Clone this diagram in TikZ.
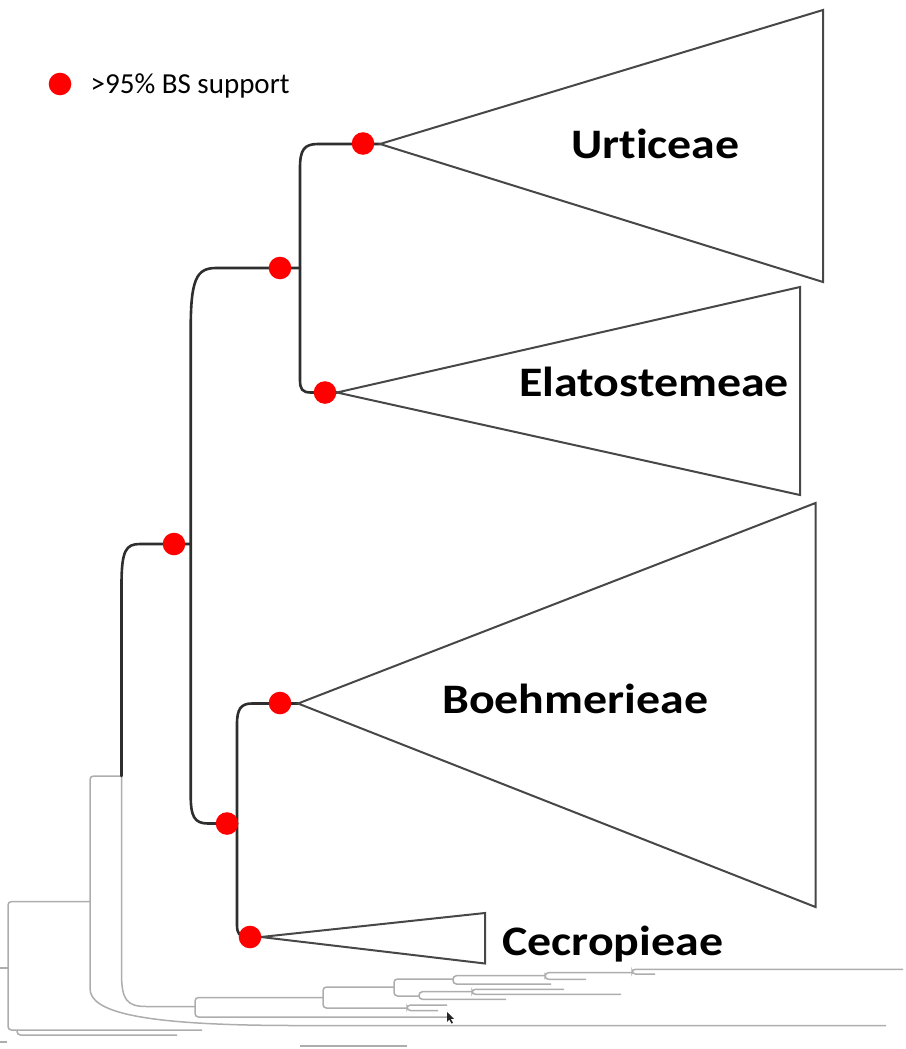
\documentclass[tikz,border=0pt]{standalone}
\usepackage{fontspec}
\setmainfont{Carlito}[Ligatures=NoCommon]
\newcommand{\wlab}[1]{\scalebox{1.14}[1]{#1}}
\begin{document}
\begin{tikzpicture}[x=1pt,y=-1pt,
  br/.style={draw=black!82, line width=2.6pt, line cap=round, line join=round},
  tri/.style={draw=black!72, line width=2pt, line join=miter},
  gr/.style={draw=black!32, line width=1.5pt, rounded corners=3.5pt},
  bs/.style={circle, fill=red, draw=none, inner sep=0pt, minimum size=22.6pt},
  lab/.style={font=\fontsize{42}{48}\selectfont\bfseries, anchor=base west, inner sep=0pt},
  leg/.style={font=\fontsize{29}{34}\selectfont, anchor=base west, inner sep=0pt}]
\useasboundingbox (0,0) rectangle (905,1049);
% ---- named tree points
\coordinate (rA) at (121.5,776);
\coordinate (nB) at (190.7,544);
\coordinate (cC) at (300,268);
\coordinate (cD) at (237,823.5);
\coordinate (aU) at (380,144);
\coordinate (aE) at (337,392.5);
\coordinate (aB) at (298,703.5);
\coordinate (aC) at (261,937);
\coordinate (g1) at (195,1006.5);
% ---- faded background tree
\draw[gr] (rA) -- (121.5,970) .. controls (121.5,1000) and (127,1006.5) .. (150,1006.5) -- (g1);
\draw[gr] (rA) -- (90,776) -- (90,985) .. controls (90,1012) and (140,1025.5) .. (300,1025.5) -- (886,1025.5);
\draw[gr] (90,901.5) -- (8,901.5) -- (8,1030) -- (202,1030);
\draw[gr] (17,1030) -- (17,1035) -- (177,1035);
\draw[gr] (0,968) -- (8,968);
\draw[gr] (0,1042) -- (7,1042);
\draw[gr] (323,997.5) -- (195,997.5) -- (195,1017) -- (447,1017);
\draw[gr] (394,987) -- (323,987) -- (323,1008) -- (407,1008);
\draw[gr] (447,1005) -- (407,1005) -- (407,1010.5) -- (438,1010.5);
\draw[gr] (453,979) -- (394,979) -- (394,996) -- (419,996);
\draw[gr] (472,991.7) -- (419,991.7) -- (419,999.3) -- (506,999.3);
\draw[gr] (564,989.3) -- (472,989.3) -- (472,994.3) -- (621,994.3);
\draw[gr] (545,975.7) -- (453,975.7) -- (453,984) -- (551,984);
\draw[gr] (632,972.7) -- (545,972.7) -- (545,979.3) -- (586,979.3);
\draw[gr] (903,969.3) -- (632,969.3) -- (632,974) -- (655,974);
\draw[gr] (300,1046) -- (407,1046);
\fill[black!85] (447,1012) -- (447,1022) -- (449.3,1019.6) -- (451.5,1023.5) -- (453,1022.8) -- (450.8,1018.9) -- (454,1018.9) -- cycle;
% ---- black tree
\draw[br] (rA) -- (121.5,585) .. controls (121.5,550) and (126,544) .. (140,544) -- (nB);
\draw[br] (cC) -- (216,268) .. controls (196,268) and (190.7,280) .. (190.7,330) -- (190.7,795) .. controls (190.7,816) and (194,823.5) .. (208,823.5) -- (cD);
\draw[br] (aU) -- (318,144) .. controls (304,144) and (300,150) .. (300,168) -- (300,380) .. controls (300,389) and (302,392.5) .. (311,392.5) -- (aE);
\draw[br] (aB) -- (252,703.5) .. controls (241,703.5) and (237,709) .. (237,724) -- (237,925) .. controls (237,933) and (239,937) .. (248,937) -- (aC);
% ---- collapsed clades
\draw[tri] (aU) -- (823,10) -- (823,282) -- cycle;
\draw[tri] (aE) -- (800,287) -- (800,495) -- cycle;
\draw[tri] (aB) -- (815.5,503) -- (815.5,907) -- cycle;
\draw[tri] (aC) -- (485,913) -- (485,963.5) -- cycle;
% ---- support dots
\node[bs] (d1) at (60,84) {};
\node[bs] (d2) at (363,143.5) {};
\node[bs] (d3) at (280,268) {};
\node[bs] (d4) at (325,392.5) {};
\node[bs] (d5) at (174,544) {};
\node[bs] (d6) at (280,703) {};
\node[bs] (d7) at (227,823.5) {};
\node[bs] (d8) at (250,937) {};
% ---- labels
\node[leg] (legt) at (90.5,93.3) {>95\% BS support};
\node[lab] (lU) at (571,158.3) {\wlab{Urticeae}};
\node[lab] (lE) at (519,396) {\wlab{Elatostemeae}};
\node[lab] (lB) at (442,713) {\wlab{Boehmerieae}};
\node[lab] (lC) at (502,955) {\wlab{Cecropieae}};
\end{tikzpicture}
\end{document}
